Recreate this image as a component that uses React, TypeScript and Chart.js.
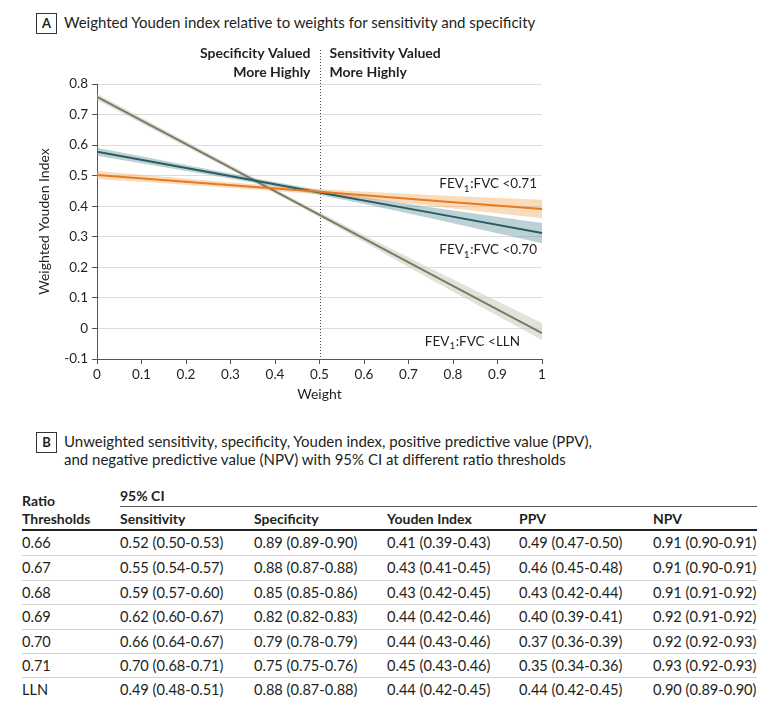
import React, { useEffect, useRef } from 'react';
import { Chart, registerables } from 'chart.js';

Chart.register(...registerables);

// ---------- Data ----------
const weights = [0, 0.25, 0.5, 0.75, 1];

// FEV1:FVC <0.71
const j071 = [0.502, 0.474, 0.447, 0.419, 0.391];
const j071Lo = [0.489, 0.465, 0.438, 0.401, 0.361];
const j071Hi = [0.515, 0.484, 0.456, 0.437, 0.421];

// FEV1:FVC <0.70
const j070 = [0.578, 0.512, 0.445, 0.379, 0.312];
const j070Lo = [0.565, 0.503, 0.437, 0.361, 0.279];
const j070Hi = [0.591, 0.521, 0.453, 0.397, 0.345];

// FEV1:FVC <LLN
const jLLN = [0.758, 0.565, 0.372, 0.178, -0.015];
const jLLNLo = [0.748, 0.557, 0.364, 0.160, -0.038];
const jLLNHi = [0.768, 0.573, 0.380, 0.196, 0.018];

const seriesSuffixes = ['<0.71', '<0.70', '<LLN'];
const seriesLabelWeight = [1, 1, 0.962];
const seriesLabelValue = [0.475, 0.257, -0.042];

const dividerWeight = 0.5;
const leftHeader = ['Specificity Valued', 'More Highly'];
const rightHeader = ['Sensitivity Valued', 'More Highly'];

// Table
const tableHeaders = ['Sensitivity', 'Specificity', 'Youden Index', 'PPV', 'NPV'];
const thresholds = ['0.66', '0.67', '0.68', '0.69', '0.70', '0.71', 'LLN'];
const sensitivity = ['0.52 (0.50-0.53)', '0.55 (0.54-0.57)', '0.59 (0.57-0.60)', '0.62 (0.60-0.67)', '0.66 (0.64-0.67)', '0.70 (0.68-0.71)', '0.49 (0.48-0.51)'];
const specificity = ['0.89 (0.89-0.90)', '0.88 (0.87-0.88)', '0.85 (0.85-0.86)', '0.82 (0.82-0.83)', '0.79 (0.78-0.79)', '0.75 (0.75-0.76)', '0.88 (0.87-0.88)'];
const youden = ['0.41 (0.39-0.43)', '0.43 (0.41-0.45)', '0.43 (0.42-0.45)', '0.44 (0.42-0.46)', '0.44 (0.43-0.46)', '0.45 (0.43-0.46)', '0.44 (0.42-0.45)'];
const ppv = ['0.49 (0.47-0.50)', '0.46 (0.45-0.48)', '0.43 (0.42-0.44)', '0.40 (0.39-0.41)', '0.37 (0.36-0.39)', '0.35 (0.34-0.36)', '0.44 (0.42-0.45)'];
const npv = ['0.91 (0.90-0.91)', '0.91 (0.90-0.91)', '0.91 (0.91-0.92)', '0.92 (0.91-0.92)', '0.92 (0.92-0.93)', '0.93 (0.92-0.93)', '0.90 (0.89-0.90)'];

// ---------- Styles ----------
const FONT = "Lato, 'Open Sans', sans-serif";
const TEXT = '#231f20';
const ORANGE = '#e57a24';
const TEAL = '#2b5b5e';
const GRAY = '#7a7a68';
const ORANGE_BAND = 'rgba(244, 170, 90, 0.42)';
const TEAL_BAND = 'rgba(95, 145, 155, 0.42)';
const GRAY_BAND = 'rgba(200, 198, 180, 0.5)';

const pts = (ys: number[]) => weights.map((x, i) => ({ x, y: ys[i] }));
const fmt = (v: number) => String(Number(Number(v).toFixed(1)));

function drawFev(ctx: CanvasRenderingContext2D, suffix: string, xRight: number, yMid: number) {
  const main = `13.5px ${FONT}`;
  const sub = `10px ${FONT}`;
  ctx.font = main;
  const w1 = ctx.measureText('FEV').width;
  const rest = ':FVC ' + suffix;
  const w3 = ctx.measureText(rest).width;
  ctx.font = sub;
  const w2 = ctx.measureText('1').width + 0.5;
  let x = xRight - (w1 + w2 + w3);
  ctx.textAlign = 'left';
  ctx.textBaseline = 'middle';
  ctx.fillStyle = TEXT;
  ctx.font = main;
  ctx.fillText('FEV', x, yMid);
  x += w1;
  ctx.font = sub;
  ctx.fillText('1', x, yMid + 5);
  x += w2;
  ctx.font = main;
  ctx.fillText(rest, x, yMid);
}

const annotPlugin = {
  id: 'annot',
  beforeDatasetsDraw(chart: any) {
    const { ctx, chartArea, scales } = chart;
    const x = Math.round(scales.x.getPixelForValue(dividerWeight)) + 0.5;
    ctx.save();
    ctx.strokeStyle = '#444';
    ctx.lineWidth = 1;
    ctx.setLineDash([1, 2]);
    ctx.beginPath();
    ctx.moveTo(x, 10);
    ctx.lineTo(x, chartArea.bottom);
    ctx.stroke();
    ctx.restore();
  },
  afterDatasetsDraw(chart: any) {
    const { ctx, scales } = chart;
    const xd = scales.x.getPixelForValue(dividerWeight);
    ctx.save();
    ctx.fillStyle = TEXT;
    ctx.font = `bold 14px ${FONT}`;
    ctx.textBaseline = 'middle';
    ctx.textAlign = 'right';
    leftHeader.forEach((t, i) => ctx.fillText(t, xd - 9, 13 + i * 19));
    ctx.textAlign = 'left';
    rightHeader.forEach((t, i) => ctx.fillText(t, xd + 10, 13 + i * 19));
    seriesSuffixes.forEach((s, i) => {
      drawFev(ctx, s, scales.x.getPixelForValue(seriesLabelWeight[i]) - 5, scales.y.getPixelForValue(seriesLabelValue[i]));
    });
    ctx.restore();
  },
};

function ChartPanel() {
  const ref = useRef<HTMLCanvasElement>(null);
  useEffect(() => {
    if (!ref.current) return;
    const line = (d: number[], c: string) => ({
      data: pts(d), borderColor: c, borderWidth: 2, pointRadius: 0, fill: false,
    });
    const lo = (d: number[]) => ({
      data: pts(d), borderColor: 'transparent', borderWidth: 0, pointRadius: 0, fill: false,
      cubicInterpolationMode: 'monotone',
    });
    const hi = (d: number[], c: string) => ({
      data: pts(d), borderColor: 'transparent', borderWidth: 0, pointRadius: 0, fill: '-1',
      backgroundColor: c, cubicInterpolationMode: 'monotone',
    });
    const tickFont = { family: FONT, size: 13.5 };
    const chart = new Chart(ref.current, {
      type: 'line',
      data: {
        datasets: [
          line(j071, ORANGE),
          line(j070, TEAL),
          line(jLLN, GRAY),
          lo(j071Lo), hi(j071Hi, ORANGE_BAND),
          lo(j070Lo), hi(j070Hi, TEAL_BAND),
          lo(jLLNLo), hi(jLLNHi, GRAY_BAND),
        ] as any,
      },
      options: {
        animation: false,
        responsive: false,
        maintainAspectRatio: false,
        layout: { padding: { top: 44, left: 0, right: 238, bottom: 0 } },
        plugins: { legend: { display: false }, tooltip: { enabled: false } },
        scales: {
          x: {
            type: 'linear', min: 0, max: 1,
            ticks: { stepSize: 0.1, font: tickFont, color: TEXT, padding: 3, callback: (v: any) => fmt(v) },
            grid: { drawOnChartArea: false, drawTicks: true, tickLength: 5, tickColor: '#555' },
            border: { color: '#555', width: 1 },
            title: { display: true, text: 'Weight', font: { family: FONT, size: 14 }, color: TEXT, padding: { top: 0, bottom: 17 } },
            afterFit: (s: any) => { s.height = 61; },
          },
          y: {
            type: 'linear', min: -0.1, max: 0.8,
            ticks: { stepSize: 0.1, font: tickFont, color: TEXT, padding: 4, callback: (v: any) => fmt(v) },
            grid: { color: '#dcdcdc', tickColor: '#555', tickLength: 5, lineWidth: 1 },
            border: { color: '#555', width: 1 },
            title: { display: true, text: 'Weighted Youden Index', font: { family: FONT, size: 14 }, color: TEXT, padding: { top: 36, bottom: 0 } },
            afterFit: (s: any) => { s.width = 97; },
          },
        },
      } as any,
      plugins: [annotPlugin],
    });
    return () => chart.destroy();
  }, []);
  return (
    <canvas ref={ref} width={780} height={380}
      style={{ position: 'absolute', left: 0, top: 40, width: 780, height: 380 }} />
  );
}

const boxStyle: React.CSSProperties = {
  position: 'absolute', left: 36, width: 19, height: 19, border: '1px solid #333',
  fontWeight: 700, fontSize: 13, lineHeight: '19px', textAlign: 'center',
};

const colLefts = [22, 120, 254, 387, 519, 653];
const TABLE_RIGHT = 757;
const ROW_TOP = 531;
const ROW_H = 24.4;

export default function App() {
  const columns = [thresholds, sensitivity, specificity, youden, ppv, npv];
  return (
    <div style={{ position: 'absolute', left: 0, top: 0, width: 780, height: 706, background: '#fff', fontFamily: FONT, color: TEXT, overflow: 'hidden' }}>
      <div style={{ ...boxStyle, top: 13 }}>A</div>
      <div style={{ position: 'absolute', left: 64, top: 12, fontSize: 15, lineHeight: '21px', whiteSpace: 'nowrap' }}>
        Weighted Youden index relative to weights for sensitivity and specificity
      </div>
      <ChartPanel />
      <div style={{ ...boxStyle, top: 432 }}>B</div>
      <div style={{ position: 'absolute', left: 64, top: 432, fontSize: 15, lineHeight: '18px', whiteSpace: 'nowrap' }}>
        Unweighted sensitivity, specificity, Youden index, positive predictive value (PPV),<br />
        and negative predictive value (NPV) with 95% CI at different ratio thresholds
      </div>
      {/* table header */}
      <div style={{ position: 'absolute', left: 22, top: 492, fontSize: 14, lineHeight: '18px', fontWeight: 700 }}>
        Ratio<br />Thresholds
      </div>
      <div style={{ position: 'absolute', left: 120, top: 487, fontSize: 14, lineHeight: '18px', fontWeight: 700 }}>95% CI</div>
      <div style={{ position: 'absolute', left: 120, top: 506, width: TABLE_RIGHT - 120, height: 1, background: '#555' }} />
      {tableHeaders.map((h, i) => (
        <div key={h} style={{ position: 'absolute', left: colLefts[i + 1], top: 510, fontSize: 14, lineHeight: '18px', fontWeight: 700 }}>{h}</div>
      ))}
      <div style={{ position: 'absolute', left: 22, top: 529, width: TABLE_RIGHT - 22, height: 2, background: '#222' }} />
      {thresholds.map((_, r) => (
        <div key={r} style={{ position: 'absolute', left: 22, top: ROW_TOP + r * ROW_H, width: TABLE_RIGHT - 22, height: ROW_H, borderTop: r > 0 ? '1px solid #d2d2d2' : 'none', boxSizing: 'border-box' }}>
          {columns.map((col, c) => (
            <div key={c} style={{ position: 'absolute', left: colLefts[c] - 22, top: 0, height: ROW_H, lineHeight: `${ROW_H}px`, fontSize: 14.6, whiteSpace: 'nowrap' }}>
              {col[r]}
            </div>
          ))}
        </div>
      ))}
    </div>
  );
}
